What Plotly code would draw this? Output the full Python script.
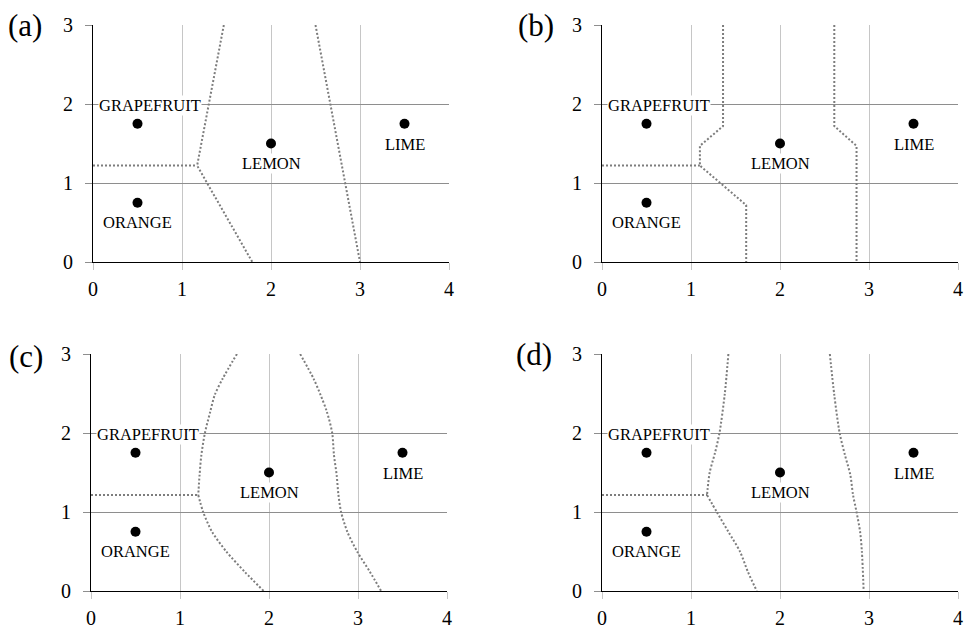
import plotly.graph_objects as go

# Fruit prototypes
fruits = ["GRAPEFRUIT", "ORANGE", "LEMON", "LIME"]
fruit_x = [0.5, 0.5, 2.0, 3.5]
fruit_y = [1.75, 0.75, 1.5, 1.75]

x_ticks = [0, 1, 2, 3, 4]
y_ticks = [0, 1, 2, 3]
panel_names = ["(a)", "(b)", "(c)", "(d)"]

# Decision boundaries for each panel: GRAPEFRUIT/ORANGE split,
# left LEMON border and right LEMON/LIME border.
split_a_x = [0, 1.17]
split_a_y = [1.22, 1.22]
left_a_x = [1.47, 1.17, 1.79]
left_a_y = [3, 1.22, 0]
right_a_x = [2.50, 3.00]
right_a_y = [3, 0]

split_b_x = [0, 1.10]
split_b_y = [1.22, 1.22]
left_b_x = [1.36, 1.36, 1.10, 1.10, 1.62, 1.62]
left_b_y = [3, 1.72, 1.47, 1.22, 0.72, 0]
right_b_x = [2.61, 2.61, 2.86, 2.86]
right_b_y = [3, 1.72, 1.47, 0]

split_c_x = [0, 1.205]
split_c_y = [1.215, 1.215]
left_c_x = [1.64, 1.48, 1.39, 1.34, 1.28, 1.24, 1.22, 1.205, 1.26, 1.36, 1.52, 1.73, 1.94]
left_c_y = [3, 2.69, 2.48, 2.27, 2.0, 1.72, 1.47, 1.215, 1.0, 0.75, 0.5, 0.24, 0]
right_c_x = [2.35, 2.50, 2.58, 2.65, 2.71, 2.73, 2.76, 2.78, 2.81, 2.88, 2.99, 3.13, 3.26]
right_c_y = [3, 2.69, 2.48, 2.27, 2.0, 1.72, 1.47, 1.22, 1.0, 0.75, 0.5, 0.25, 0]

split_d_x = [0, 1.18]
split_d_y = [1.215, 1.215]
left_d_x = [1.42, 1.38, 1.32, 1.27, 1.21, 1.18, 1.29, 1.42, 1.55, 1.64, 1.74]
left_d_y = [3, 2.5, 2.0, 1.75, 1.5, 1.215, 1.0, 0.75, 0.5, 0.24, 0]
right_d_x = [2.56, 2.61, 2.67, 2.73, 2.79, 2.82, 2.86, 2.90, 2.92, 2.94]
right_d_y = [3, 2.48, 2.0, 1.72, 1.47, 1.22, 1.0, 0.75, 0.5, 0]

boundaries = [
    [(split_a_x, split_a_y), (left_a_x, left_a_y), (right_a_x, right_a_y)],
    [(split_b_x, split_b_y), (left_b_x, left_b_y), (right_b_x, right_b_y)],
    [(split_c_x, split_c_y), (left_c_x, left_c_y), (right_c_x, right_c_y)],
    [(split_d_x, split_d_y), (left_d_x, left_d_y), (right_d_x, right_d_y)],
]
# panels (c) and (d) have curved borders
smooth_panel = [False, False, True, True]

W, H = 967, 630
FONT = "Liberation Serif"
LINE = dict(color="#7d7d7d", width=2, dash="2px,2px")

# pixel boxes of each panel's plotting area: (left, right, top, bottom)
boxes = [(93, 449, 25, 262), (602, 958, 25, 262),
         (91, 447, 354, 591), (602, 958, 354, 591)]
# label offsets (px) relative to their points
label_shift = {"GRAPEFRUIT": (12, 18), "ORANGE": (0, -20),
               "LEMON": (0, -20), "LIME": (0, -21)}
label_pos = [(25, 26), (536, 26), (26, 356), (534, 354)]


def pieces(bx, by, smooth):
    """Split a curved border at its corner so the kink stays sharp."""
    if not smooth or len(bx) < 3:
        return [(bx, by)]
    j = min(range(len(bx)), key=lambda n: bx[n])
    if 0 < j < len(bx) - 1:
        return [(bx[:j + 1], by[:j + 1]), (bx[j:], by[j:])]
    return [(bx, by)]


fig = go.Figure()
layout = dict(template="none", width=W, height=H,
              margin=dict(l=0, r=0, t=0, b=0, pad=0, autoexpand=False),
              paper_bgcolor="white", plot_bgcolor="white", showlegend=False,
              font=dict(family=FONT, color="black"))
annotations = []

for i, (l, r, t, b) in enumerate(boxes):
    k = "" if i == 0 else str(i + 1)
    xa, ya = "x" + k, "y" + k
    layout["xaxis" + k] = dict(
        domain=[l / W, r / W], range=[0, 4], anchor=ya, automargin=False,
        tickvals=x_ticks, showgrid=True, gridcolor="#c6c6c6", gridwidth=1,
        showline=True, linecolor="black", linewidth=1, zeroline=False,
        ticks="outside", ticklen=7, tickcolor="#c6c6c6", ticklabelstandoff=2,
        tickfont=dict(family=FONT, size=20, color="black"), fixedrange=True)
    layout["yaxis" + k] = dict(
        domain=[1 - b / H, 1 - t / H], range=[0, 3], anchor=xa, automargin=False,
        tickvals=y_ticks, showgrid=True, gridcolor="#8e8e8e", gridwidth=1,
        showline=True, linecolor="black", linewidth=1, zeroline=False,
        ticks="outside", ticklen=7, tickcolor="#8e8e8e", ticklabelstandoff=8,
        tickfont=dict(family=FONT, size=20, color="black"), fixedrange=True)

    smooth = smooth_panel[i]
    for bx, by in boundaries[i]:
        for px_, py_ in pieces(bx, by, smooth):
            fig.add_trace(go.Scatter(
                x=px_, y=py_, mode="lines", xaxis=xa, yaxis=ya,
                hoverinfo="skip",
                line=dict(LINE, shape="spline" if smooth else "linear",
                          smoothing=0.8)))

    fig.add_trace(go.Scatter(
        x=fruit_x, y=fruit_y, mode="markers", xaxis=xa, yaxis=ya,
        text=fruits, marker=dict(color="black", size=10)))

    for name, fx, fy in zip(fruits, fruit_x, fruit_y):
        dx, dy = label_shift[name]
        annotations.append(dict(
            x=fx, y=fy, xref=xa, yref=ya, text=name, showarrow=False,
            xshift=dx, yshift=dy, bgcolor="white", borderpad=0,
            font=dict(family=FONT, size=16.5, color="black")))

    lx, ly = label_pos[i]
    annotations.append(dict(
        x=lx / W, y=1 - ly / H, xref="paper", yref="paper",
        text=panel_names[i], showarrow=False, xanchor="center",
        yanchor="middle", font=dict(family=FONT, size=31, color="black")))

layout["annotations"] = annotations
fig.update_layout(**layout)
fig.write_html("out.html")
